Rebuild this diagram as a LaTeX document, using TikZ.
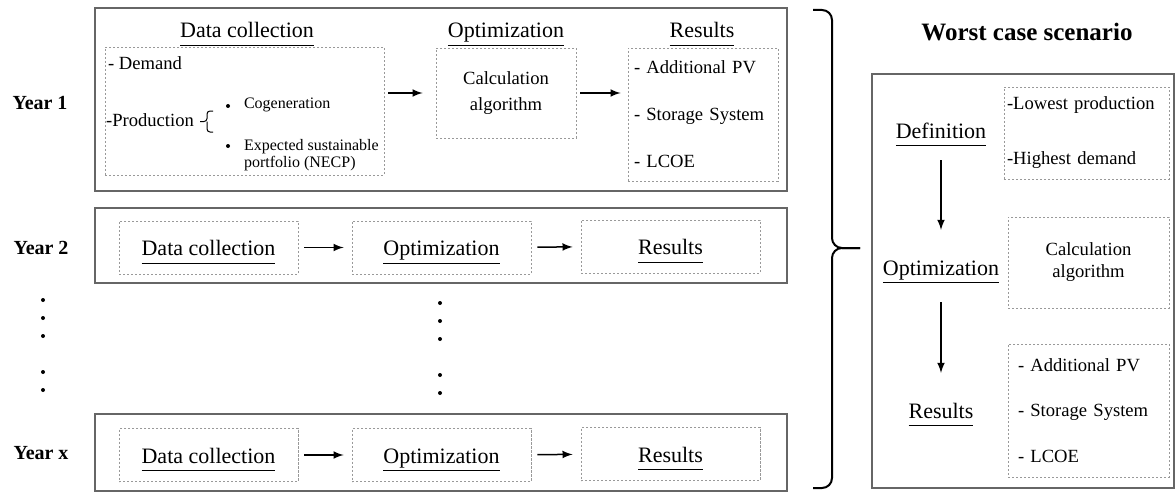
\documentclass[tikz,border=0pt]{standalone}
\usepackage{fontspec}
\setmainfont{Liberation Serif}
\usetikzlibrary{arrows}
\usetikzlibrary{calc}

% underlined heading with a fixed depth
\newcommand\ulabel[1]{\underline{#1\vphantom{p}}}

\begin{document}
\begin{tikzpicture}[>=latex, x=0.5pt, y=-0.5pt,
    yearbox/.style={draw=black!60, line width=0.8pt},
    dashbox/.style={draw=black!40, dash pattern=on 1.2pt off 0.8pt, line width=0.4pt, inner sep=0pt},
    head/.style={font=\fontsize{11}{13}\selectfont, text height=11pt, text depth=3pt},
    item/.style={font=\fontsize{9.3}{11}\selectfont},
    smallitem/.style={font=\fontsize{8}{8.5}\selectfont},
    yearlab/.style={font=\bfseries\fontsize{10}{12}\selectfont},
    rowbox/.style={dashbox, head, minimum width=89.5pt, minimum height=26.5pt},
    flow/.style={->, line width=0.75pt, shorten <=2pt, shorten >=3.5pt},
    rowflow/.style={->, line width=0.75pt, shorten <=3pt, shorten >=4pt},
    dot/.style={circle, fill, inner sep=0pt, minimum size=2pt},
    bigbrace/.style={line width=1pt, rounded corners=5pt}]

    \useasboundingbox (0,0) rectangle (1176,492);

    % Year labels
    \node[yearlab] (lab1) at (40,103) {Year 1};
    \node[yearlab] (lab2) at (41,248) {Year 2};
    \node[yearlab] (labx) at (41,453) {Year x};

    % Year 1
    \draw[yearbox] (95,8) rectangle (787,191);
    \node[head] (hdc1) at (247,30) {\ulabel{Data collection}};
    \node[head] (hop1) at (506,30) {\ulabel{Optimization}};
    \node[head] (hrs1) at (702,30) {\ulabel{Results}};

    \node[dashbox, minimum width=139.5pt, minimum height=64pt] (dc1) at (244.5,111) {};
    \node[dashbox, item, align=center, minimum width=70pt, minimum height=45pt] (op1) at (506,93) {Calculation\\[2pt]algorithm};
    \node[dashbox, item, align=left, text width=69pt, inner xsep=3pt, minimum height=66.5pt] (rs1) at (703,114.5)
        {- Additional PV\\[12.5pt]- Storage System\\[12.5pt]- LCOE};

    \node[item, anchor=west] (dem) at (101,63) {- Demand};
    \node[item, anchor=west] (prod) at (99,120) {-Production};
    \draw[line width=0.5pt, rounded corners=1.5pt] (213,111) -| (207,121.5) -- (200,121.5);
    \draw[line width=0.5pt, rounded corners=1.5pt] (213,132) -| (207,121.5);
    \node[dot] (b1) at (228,106) {};
    \node[dot] (b2) at (228,146) {};
    \node[smallitem, anchor=west] (cog) at (237,105) {Cogeneration};
    \node[smallitem, anchor=west, align=left] (necp) at (237,155) {Expected sustainable\\portfolio (NECP)};

    \draw[flow, shorten >=6.5pt] (op1.west -| dc1.east) -- (op1.west);
    \draw[flow] (op1.east) -- (op1.east -| rs1.west);

    % Year 2
    \draw[yearbox] (95,208) rectangle (787,283);
    \node[rowbox] (dc2) at (208.5,247.5) {\ulabel{Data collection}};
    \node[rowbox] (op2) at (441.5,247.5) {\ulabel{Optimization}};
    \node[rowbox] (rs2) at (670.5,246.5) {\ulabel{Results}};
    \draw[rowflow] (dc2) -- (op2);
    \draw[rowflow] (op2) -- (rs2);

    % dots
    \foreach \y in {300,318,336,372,390}
        \node[dot] (ld\y) at (43,\y) {};
    \foreach \y in {303,321,339,375,393}
        \node[dot] (md\y) at (440,\y) {};

    % Year x
    \draw[yearbox] (95,414) rectangle (787,491);
    \node[rowbox] (dcx) at (208.5,455) {\ulabel{Data collection}};
    \node[rowbox] (opx) at (441.5,455) {\ulabel{Optimization}};
    \node[rowbox] (rsx) at (670.5,454) {\ulabel{Results}};
    \draw[rowflow] (dcx) -- (opx);
    \draw[rowflow] (opx) -- (rsx);

    % brace
    \draw[bigbrace] (813,10) -- (832,10) -- (832,248) -- (860,248);
    \draw[bigbrace] (813,488) -- (832,488) -- (832,248) -- (860,248);

    % Worst case scenario
    \node[font=\bfseries\fontsize{12.5}{15}\selectfont] (wcs) at (1027,32) {Worst case scenario};
    \draw[yearbox] (872,74) rectangle (1174,488);
    \node[head] (def) at (941,130) {\ulabel{Definition}};
    \node[head] (wopt) at (941,267) {\ulabel{Optimization}};
    \node[head] (wres) at (941,410) {\ulabel{Results}};

    \node[dashbox, item, align=left, text width=79.5pt, inner xsep=1.5pt, minimum height=46pt] (wd1) at (1086.5,133)
        {-Lowest production\\[16.5pt]-Highest demand};
    \node[dashbox, item, align=center, minimum width=80.5pt, minimum height=45.5pt] (wd2) at (1088.5,262.5)
        {Calculation\\algorithm};
    \node[dashbox, item, align=left, text width=70.5pt, inner xsep=5pt, minimum height=66.5pt] (wd3) at (1088.5,410.5)
        {- Additional PV\\[11.75pt]- Storage System\\[11.75pt]- LCOE};

    \draw[flow, shorten <=4.5pt, shorten >=8pt] (def) -- (wopt);
    \draw[flow, shorten <=7pt, shorten >=8pt] (wopt) -- (wres);

\end{tikzpicture}
\end{document}
